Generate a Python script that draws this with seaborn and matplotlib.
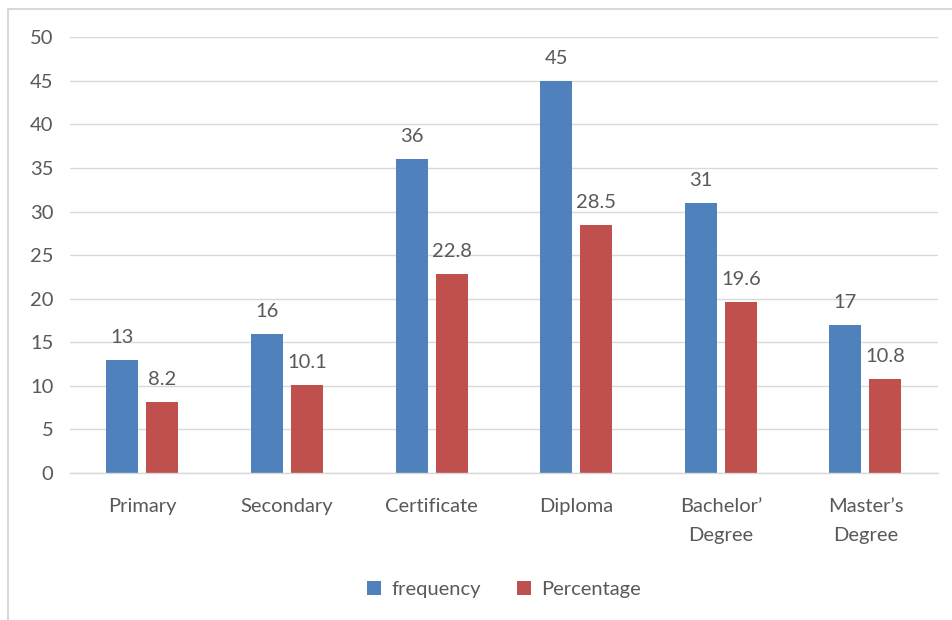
import matplotlib
matplotlib.use("Agg")
import matplotlib.pyplot as plt
from matplotlib.lines import Line2D
import seaborn as sns
import pandas as pd

categories = ["Primary", "Secondary", "Certificate", "Diploma",
              "Bachelor’\nDegree", "Master’s\nDegree"]
frequency = [13, 16, 36, 45, 31, 17]
percentage = [8.2, 10.1, 22.8, 28.5, 19.6, 10.8]
series_names = ["frequency", "Percentage"]
yticks = [0, 5, 10, 15, 20, 25, 30, 35, 40, 45, 50]

df = pd.DataFrame({
    "level": categories * 2,
    "value": frequency + percentage,
    "series": [series_names[0]] * len(categories) + [series_names[1]] * len(categories),
})

sns.set_theme(style="white")
plt.rcParams["font.family"] = ["Lato", "DejaVu Sans"]
text_color = "#595959"
grid_color = "#D9D9D9"
fs = 14.5

fig = plt.figure(figsize=(9.52, 6.2), dpi=100)
ax = fig.add_axes([0.0735, 0.237, 0.9115, 0.703])

sns.barplot(data=df, x="level", y="value", hue="series", order=categories,
            hue_order=series_names, palette=["#4F81BD", "#C0504D"],
            width=0.553, gap=0.2, linewidth=0, ax=ax, legend=True, saturation=1)

ax.set_ylim(0, 50)
ax.set_yticks(yticks)
ax.set_xlim(-0.5, len(categories) - 0.5)
ax.yaxis.grid(True, color=grid_color, linewidth=1.0)
ax.set_axisbelow(True)
for side in ["top", "right", "left"]:
    ax.spines[side].set_visible(False)
ax.spines["bottom"].set_color(grid_color)
ax.spines["bottom"].set_linewidth(1.0)
ax.set_xlabel("")
ax.set_ylabel("")
ax.tick_params(axis="both", length=0, colors=text_color, labelsize=fs)
ax.tick_params(axis="x", pad=18)
ax.tick_params(axis="y", pad=12)
for lbl in ax.get_xticklabels():
    lbl.set_linespacing(1.85)
    lbl.set_verticalalignment("top")

for container in ax.containers:
    ax.bar_label(container, fmt="%g", padding=10, fontsize=fs, color=text_color)

leg = ax.legend(loc="upper center", bbox_to_anchor=(0.5, -0.205), ncol=2,
                frameon=False, fontsize=fs, handlelength=0.7, handleheight=0.7,
                handletextpad=0.5, columnspacing=1.8)
for t in leg.get_texts():
    t.set_color(text_color)

# light frame around the chart area
fig.add_artist(Line2D([8 / 952, 1.0], [1 - 9 / 620, 1 - 9 / 620],
                      transform=fig.transFigure, color=grid_color, linewidth=1.5))
fig.add_artist(Line2D([8 / 952, 8 / 952], [0.0, 1 - 9 / 620],
                      transform=fig.transFigure, color=grid_color, linewidth=1.5))

fig.savefig("out.png", dpi=100, facecolor="white")
